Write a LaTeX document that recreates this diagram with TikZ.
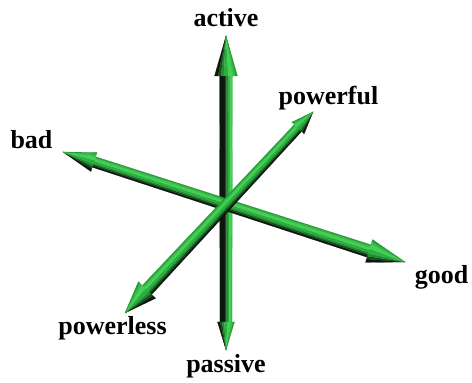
\documentclass[tikz,border=0pt]{standalone}
\usepackage{fontspec}
\setmainfont{Liberation Serif}
\usetikzlibrary{calc}
\definecolor{cA}{RGB}{12,22,12}
\definecolor{cB}{RGB}{22,76,30}
\definecolor{cC}{RGB}{34,138,48}
\definecolor{cD}{RGB}{42,176,62}
\definecolor{cE}{RGB}{70,206,86}
\definecolor{cF}{RGB}{52,188,70}
\definecolor{cG}{RGB}{36,152,52}
\newcommand\normbands{-1/-0.7/cA,-0.7/-0.45/cB,-0.45/-0.2/cC,-0.2/0.2/cD,0.2/0.6/cE,0.6/0.85/cF,0.85/1/cG}
\newcommand\darkbands{-1/-0.15/cA,-0.15/0.1/cB,0.1/0.35/cC,0.35/0.6/cD,0.6/0.85/cE,0.85/1/cF}
\newcommand\myshaft[5]{%
  \foreach \sa/\sb/\cl in #5 {%
    \fill[\cl,draw=\cl,line width=0.2pt]
      ($(#1)!{(\sa)*(#3)*1pt}!90:(#2)$) -- ($(#1)!{(\sb)*(#3)*1pt}!90:(#2)$)
      -- ($(#2)!{(\sb)*(#4)*1pt}!-90:(#1)$) -- ($(#2)!{(\sa)*(#4)*1pt}!-90:(#1)$) -- cycle;}}
\newcommand\mycone[4]{%
  \foreach \sa/\sb/\cl in \normbands {%
    \fill[\cl,draw=\cl,line width=0.2pt]
      ($(#1)!{(\sa)*(#3)*1pt}!#4:(#2)$) -- ($(#1)!{(\sb)*(#3)*1pt}!#4:(#2)$) -- (#2) -- cycle;}}
\tikzset{lbl/.style={font=\fontsize{26}{30}\selectfont\bfseries, anchor=base, inner sep=0pt, text=black}}
\begin{document}
\begin{tikzpicture}[x=1pt,y=1pt]
\useasboundingbox[fill=white] (0,0) rectangle (472,383);
% key points
\coordinate (C) at (225,176);
\coordinate (Tact) at (226,347);
\coordinate (Bact) at (226,307);
\coordinate (Tpas) at (226,33);
\coordinate (Bpas) at (226,61);
\coordinate (Tbad) at (63,231);
\coordinate (Bbad) at (94,221);
\coordinate (Tgood) at (405,121);
\coordinate (Bgood) at (369,132);
\coordinate (Tpf) at (313,271);
\coordinate (Bpf) at (298,255);
\coordinate (Tpl) at (125,70);
\coordinate (Bpl) at (147,93);
% vertical axis
\myshaft{Bact}{Bpas}{6.5}{6}{\darkbands}
\mycone{Bact}{Tact}{11.5}{-90}
\mycone{Bpas}{Tpas}{8.5}{90}
% bad - good axis
\myshaft{Bbad}{Bgood}{5.5}{6.5}{\normbands}
\mycone{Bbad}{Tbad}{10}{-90}
\mycone{Bgood}{Tgood}{12}{90}
% powerless - powerful axis
\myshaft{Bpl}{Bpf}{6.5}{5}{\normbands}
\mycone{Bpl}{Tpl}{12}{-90}
\mycone{Bpf}{Tpf}{8.5}{90}
% labels
\node[lbl] (active) at (226,356) {active};
\node[lbl] (bad) at (31.5,234) {bad};
\node[lbl] (powerful) at (328.5,278) {powerful};
\node[lbl] (good) at (441.5,99) {good};
\node[lbl] (powerless) at (112.5,48) {powerless};
\node[lbl] (passive) at (226,10) {passive};
\end{tikzpicture}
\end{document}
